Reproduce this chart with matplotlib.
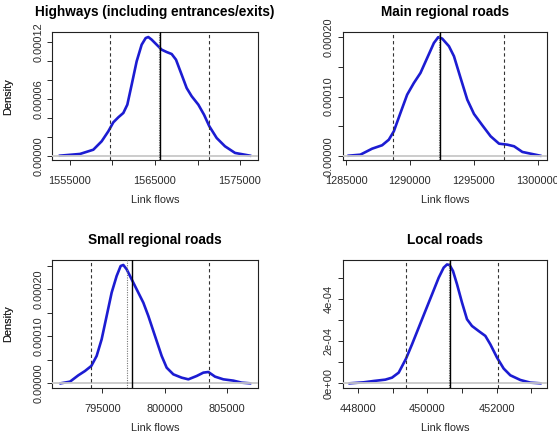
import matplotlib
matplotlib.use('Agg')
import matplotlib.pyplot as plt

plt.rcParams['font.family'] = ['Liberation Sans', 'DejaVu Sans']

titles = ['Highways (including entrances/exits)', 'Main regional roads',
          'Small regional roads', 'Local roads']

# density curves (x = link flow, y = density)
hw_x = [1553824, 1556176, 1557745, 1558725, 1559510, 1560098, 1560686, 1561275,
        1561745, 1562255, 1562843, 1563431, 1563902, 1564212, 1564608, 1565196,
        1565784, 1566373, 1566961, 1567471, 1568137, 1568725, 1569314, 1570098,
        1570765, 1571392, 1572255, 1573235, 1574412, 1576176]
hw_y = [0, 1.8e-6, 6.3e-6, 15.2e-6, 25.8e-6, 35.3e-6, 40.6e-6, 45.2e-6,
        54e-6, 75.1e-6, 99.9e-6, 117.5e-6, 124.5e-6, 125.6e-6, 122.8e-6, 117.5e-6,
        112.2e-6, 109.7e-6, 107.6e-6, 101.6e-6, 85.7e-6, 71.6e-6, 62.9e-6, 54e-6,
        43.4e-6, 31.1e-6, 18.7e-6, 9.9e-6, 2.9e-6, 0]

mr_x = [1285212, 1286122, 1287039, 1287824, 1288349, 1288741, 1289259, 1289784,
        1290310, 1290827, 1291353, 1291878, 1292216, 1292529, 1293055, 1293447,
        1293965, 1294490, 1295016, 1295667, 1296318, 1296976, 1297627, 1298153,
        1298804, 1300200]
mr_y = [0, 1.7e-6, 11.8e-6, 17.6e-6, 27e-6, 41.2e-6, 72.2e-6, 103.1e-6,
        122.9e-6, 139.8e-6, 165.2e-6, 190.5e-6, 200.2e-6, 197.8e-6, 185e-6, 168.1e-6,
        131.4e-6, 94.7e-6, 70.5e-6, 51.4e-6, 32.8e-6, 20.3e-6, 18.6e-6, 15.9e-6,
        6.3e-6, 0]

sr_x = [791649, 792399, 793070, 793606, 794115, 794544, 794946, 795349,
        795751, 796153, 796475, 796689, 796957, 797359, 797761, 798298,
        798700, 799236, 799772, 800174, 800710, 801381, 801917, 802587,
        803123, 803525, 804062, 804732, 805536, 806206, 806877]
sr_y = [0, 3.5e-6, 17e-6, 26.2e-6, 36.9e-6, 58.2e-6, 93.6e-6, 143.3e-6,
        193e-6, 228.4e-6, 249.6e-6, 251.8e-6, 242.6e-6, 221.3e-6, 200e-6, 171.6e-6,
        143.3e-6, 100.7e-6, 58.2e-6, 33.3e-6, 19.1e-6, 12e-6, 8.5e-6, 15.6e-6,
        22.7e-6, 24.1e-6, 14.2e-6, 8.5e-6, 5.7e-6, 1.4e-6, 0]

lr_x = [447760, 448163, 448452, 448788, 448981, 449173, 449385, 449558,
        449750, 449942, 450135, 450327, 450471, 450567, 450644, 450740,
        450856, 451000, 451144, 451288, 451481, 451673, 451817, 452010,
        452202, 452394, 452683, 452971, 453260]
lr_y = [0, 4.7e-6, 11e-6, 17.4e-6, 26.9e-6, 50.6e-6, 117e-6, 185e-6,
        264e-6, 343e-6, 422e-6, 501e-6, 549e-6, 564e-6, 561e-6, 533e-6,
        470e-6, 383e-6, 304e-6, 272e-6, 248e-6, 225e-6, 185e-6, 122e-6,
        70e-6, 38e-6, 15.8e-6, 3.2e-6, 0]

# reference lines: lower dashed, dotted, solid, upper dashed
hw_lines = [1559670, 1565435, 1565627, 1571392]
mr_lines = [1288678, 1292300, 1292383, 1297392]
sr_lines = [794115, 796957, 797359, 803552]
lr_lines = [449385, 450615, 450663, 452038]

hw_xt = [1555000, 1560000, 1565000, 1570000, 1575000]
hw_xl = ['1555000', '', '1565000', '', '1575000']
mr_xt = [1285000, 1290000, 1295000, 1300000]
mr_xl = ['1285000', '1290000', '1295000', '1300000']
sr_xt = [795000, 800000, 805000]
sr_xl = ['795000', '800000', '805000']
lr_xt = [448000, 449000, 450000, 451000, 452000, 453000]
lr_xl = ['448000', '', '450000', '', '452000', '']

hw_yt = [0, 2e-5, 4e-5, 6e-5, 8e-5, 1e-4, 1.2e-4]
hw_yl = ['0.00000', '', '', '0.00006', '', '', '0.00012']
mr_yt = [0, 5e-5, 1e-4, 1.5e-4, 2e-4]
mr_yl = ['0.00000', '', '0.00010', '', '0.00020']
sr_yt = [0, 5e-5, 1e-4, 1.5e-4, 2e-4, 2.5e-4]
sr_yl = ['0.00000', '', '0.00010', '', '0.00020', '']
lr_yt = [0, 1e-4, 2e-4, 3e-4, 4e-4, 5e-4]
lr_yl = ['0e+00', '', '2e-04', '', '4e-04', '']

panels = [
    (hw_x, hw_y, hw_lines, hw_xt, hw_xl, hw_yt, hw_yl, (1552918, 1577082), (-4.6e-6, 130.6e-6)),
    (mr_x, mr_y, mr_lines, mr_xt, mr_xl, mr_yt, mr_yl, (1284739, 1300731), (-7.3e-6, 208.5e-6)),
    (sr_x, sr_y, sr_lines, sr_xt, sr_xl, sr_yt, sr_yl, (790979, 807493), (-10.6e-6, 263e-6)),
    (lr_x, lr_y, lr_lines, lr_xt, lr_xl, lr_yt, lr_yl, (447558, 453452), (-23.7e-6, 586.6e-6)),
]

W, H = 557, 432
# axes boxes in pixels: left, top, right, bottom
boxes = [(52.3, 32.3, 257.7, 160), (342.7, 32.3, 547, 160),
         (52.3, 259.7, 257.7, 388.3), (342.7, 259.7, 547, 388.3)]

fig = plt.figure(figsize=(W / 100, H / 100), dpi=100)

for (x, y, vl, xt, xl, yt, yl, xlim, ylim), title, (l, t, r, b) in zip(panels, titles, boxes):
    ax = fig.add_axes([l / W, 1 - b / H, (r - l) / W, (b - t) / H])
    ax.plot(x, y, color='#1c1cd2', lw=1.9, solid_joinstyle='round', zorder=2)
    ax.axhline(0, color='#c8c8c8', lw=1.3, zorder=3)
    ax.axvline(vl[0], color='#333333', lw=0.8, ls=(0, (3, 2.5)), zorder=4)
    ax.axvline(vl[3], color='#333333', lw=0.8, ls=(0, (3, 2.5)), zorder=4)
    ax.axvline(vl[1], color='#777777', lw=0.8, ls=(0, (1, 1.2)), zorder=4)
    ax.axvline(vl[2], color='black', lw=1.0, zorder=4)
    ax.set_xlim(*xlim)
    ax.set_ylim(*ylim)
    ax.set_xticks(xt)
    ax.set_xticklabels(xl)
    ax.set_yticks(yt)
    ax.set_yticklabels(yl, rotation=90, va='center')
    ax.tick_params(axis='x', direction='out', length=3.6, width=0.7, pad=8, labelsize=7.9, colors='#2a2a2a')
    ax.tick_params(axis='y', direction='out', length=3.6, width=0.7, pad=3, labelsize=7.9, colors='#2a2a2a')
    for s in ax.spines.values():
        s.set_linewidth(0.8)
        s.set_color('#222222')
    ax.set_xlabel('Link flows', fontsize=7.9, color='#2a2a2a', va='center')
    ax.set_ylabel('Density', fontsize=7.9, color='#2a2a2a', va='center')
    ax.xaxis.set_label_coords(0.5, -40 / (b - t))
    ax.yaxis.set_label_coords((7.8 - l) / (r - l), 0.5)
    ax.set_title(title, fontsize=9.8, fontweight='bold', pad=11.5)

fig.savefig('out.png', dpi=100)
